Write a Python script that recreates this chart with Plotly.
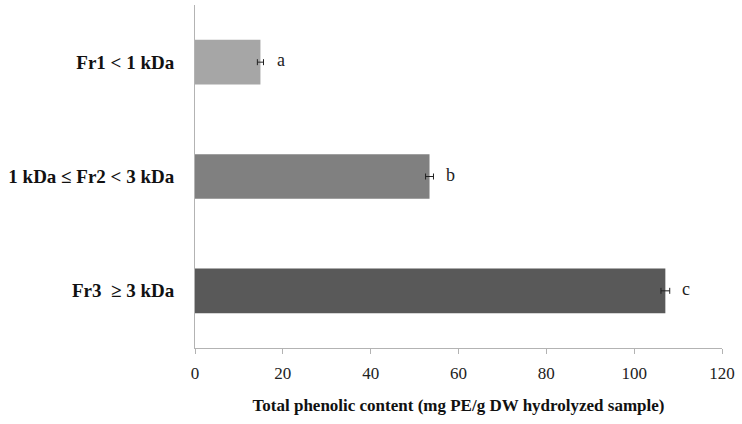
import plotly.graph_objects as go

fractions = ["Fr1 < 1 kDa", "1 kDa \u2264 Fr2 < 3 kDa", "Fr3  \u2265 3 kDa"]
phenolic = [14.9, 53.4, 107.1]
errors = [0.7, 0.9, 1.0]
letters = ["a", "b", "c"]
bar_colors = ["#a6a6a6", "#808080", "#595959"]

serif = "Liberation Serif"

fig = go.Figure()
fig.add_trace(go.Bar(
    x=phenolic, y=fractions, orientation="h",
    marker=dict(color=bar_colors, line=dict(width=0)),
    width=0.39,
    error_x=dict(type="data", array=errors, color="#222222", thickness=1, width=3),
    showlegend=False,
))

for val, frac, let in zip(phenolic, fractions, letters):
    fig.add_annotation(x=val, y=frac, text=let, showarrow=False,
                       xanchor="center", xshift=21, yshift=2,
                       font=dict(family=serif, size=18, color="#222222"))

fig.update_xaxes(
    range=[0, 120], dtick=20, showline=True, linecolor="#b3b3b3", linewidth=1,
    ticks="outside", ticklen=5, tickcolor="#b3b3b3", showgrid=False, zeroline=False,
    automargin=False, ticklabelstandoff=5,
    tickfont=dict(family=serif, size=17, color="#222222"),
    title=dict(text="<b>Total phenolic content (mg PE/g DW hydrolyzed sample)</b>",
               font=dict(family=serif, size=17, color="#111111"), standoff=16),
)
fig.update_yaxes(
    autorange="reversed", showline=True, linecolor="#b3b3b3", linewidth=1,
    ticks="", showgrid=False, automargin=False, ticklabelstandoff=16,
    tickfont=dict(family=serif, size=19, color="#111111"),
)
fig.update_yaxes(tickvals=fractions, ticktext=["<b>" + f + "</b>" for f in fractions])

fig.update_layout(
    width=742, height=424,
    margin=dict(l=195, r=20, t=5, b=76),
    plot_bgcolor="white", paper_bgcolor="white",
)
# drop the page's default body margin so the figure sits at the window corner
fig.write_html("out.html", config={"displayModeBar": False},
               post_script="document.body.style.margin='0';")
